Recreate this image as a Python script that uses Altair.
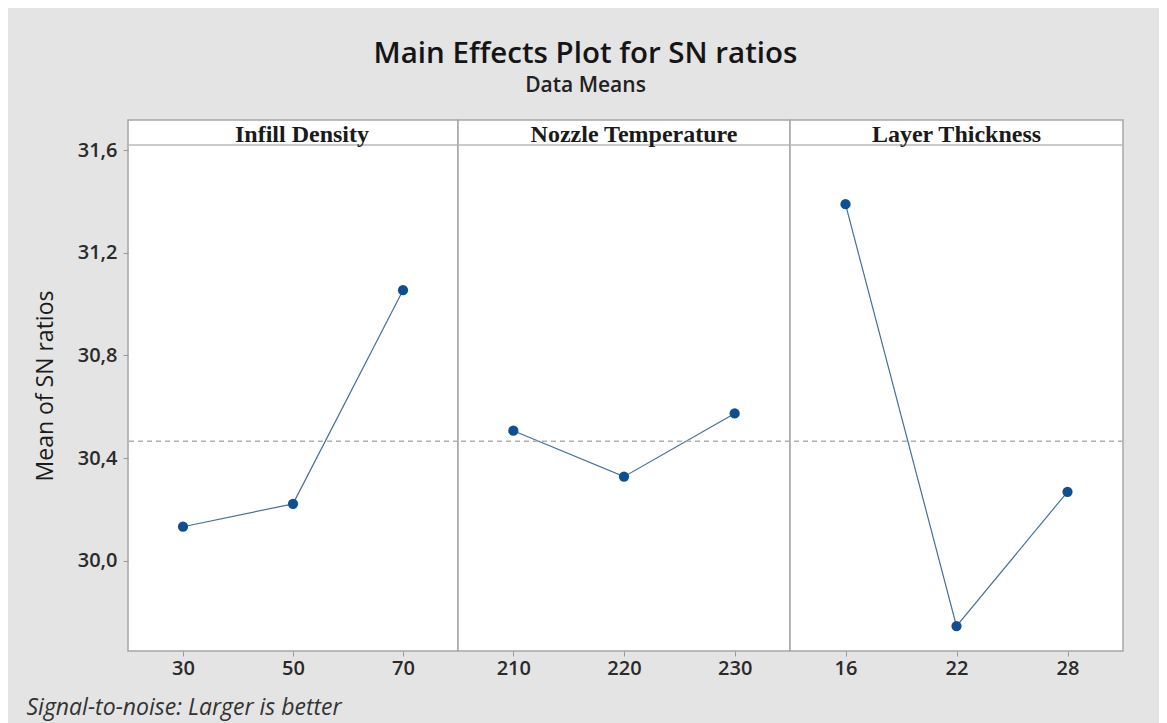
import altair as alt
import pandas as pd

factors = ["Infill Density", "Nozzle Temperature", "Layer Thickness"]
infill_levels = ["30", "50", "70"]
infill_sn = [30.133, 30.222, 31.054]
nozzle_levels = ["210", "220", "230"]
nozzle_sn = [30.507, 30.328, 30.574]
layer_levels = ["16", "22", "28"]
layer_sn = [31.389, 29.746, 30.269]
overall_mean = 30.466
y_ticks = [30.0, 30.4, 30.8, 31.2, 31.6]
y_domain = [29.649, 31.717]
panel_widths = [330, 332, 333]
PANEL_H = 531

SANS = "Open Sans"
SERIF = "Liberation Serif"
LINE_C = "#44709c"
PT_C = "#0f4f91"


def panel(name, levels, values, width, show_y, head_dx):
    df = pd.DataFrame({"level": levels, "sn": values})
    x = alt.X("level:O", sort=levels, title=None,
              scale=alt.Scale(type="point", padding=0.5),
              axis=alt.Axis(labelAngle=0, domain=False, ticks=True, tickSize=5,
                            tickColor="#9a9a9a", labelFontSize=20, labelColor="#2a2a2a",
                            labelFont=SANS, labelFontWeight=600, labelPadding=2, grid=False))
    if show_y:
        yaxis = alt.Axis(values=y_ticks, domain=False, tickSize=5, tickColor="#9a9a9a",
                         labelExpr="replace(format(datum.value, '.1f'), '.', ',')",
                         labelFontSize=20, labelColor="#2a2a2a", labelFont=SANS,
                         labelFontWeight=600, labelPadding=6,
                         title="Mean of SN ratios", titleFont=SANS, titleFontSize=23,
                         titleFontWeight="normal", titleColor="#1a1a1a", titlePadding=20,
                         grid=False)
    else:
        yaxis = None
    yscale = alt.Scale(domain=y_domain, nice=False, zero=False)
    y = alt.Y("sn:Q", scale=yscale, axis=yaxis, title=None)

    base = alt.Chart(df)
    line = base.mark_line(color=LINE_C, strokeWidth=1.2).encode(x=x, y=y)
    pts = base.mark_circle(color=PT_C, size=105, opacity=1).encode(x=x, y=y)
    mean_rule = alt.Chart(pd.DataFrame({"m": [overall_mean]})).mark_rule(
        color="#b0b0b0", strokeDash=[5, 4], strokeWidth=1.5
    ).encode(y=alt.Y("m:Q", scale=yscale, axis=yaxis, title=None))
    header_rule = alt.Chart(pd.DataFrame({"f": [name]})).mark_rule(
        color="#b8b8b8", strokeWidth=1.5
    ).encode(y=alt.value(25), x=alt.value(0), x2=alt.value(width))
    header_text = alt.Chart(pd.DataFrame({"f": [name]})).mark_text(
        font=SERIF, fontSize=24, fontWeight="bold", color="#1a1a1a", baseline="alphabetic",
        dx=head_dx
    ).encode(text="f:N", x=alt.value(width / 2), y=alt.value(22))
    return alt.layer(line, mean_rule, pts, header_rule, header_text).properties(
        width=width, height=PANEL_H
    )


p1 = panel(factors[0], infill_levels, infill_sn, panel_widths[0], True, 9)
p2 = panel(factors[1], nozzle_levels, nozzle_sn, panel_widths[1], False, 10)
p3 = panel(factors[2], layer_levels, layer_sn, panel_widths[2], False, 0)

inner = alt.hconcat(p1, p2, p3, spacing=0, bounds="flush").resolve_scale(x="independent").properties(
    title=alt.TitleParams(
        "Signal-to-noise: Larger is better", orient="bottom", anchor="start", frame="bounds",
        font=SANS, fontSize=23, fontStyle="italic", fontWeight="normal", color="#333333",
        offset=18, dx=-7
    )
)

chart = alt.vconcat(inner).properties(
    title=alt.TitleParams(
        "Main Effects Plot for SN ratios", subtitle="Data Means", anchor="middle",
        frame="bounds", font=SANS, fontSize=29.5, fontWeight=600, color="#151515",
        subtitleFont=SANS, subtitleFontSize=21, subtitleFontWeight=600, subtitleColor="#222222",
        subtitlePadding=6, offset=22, dx=10
    ),
    padding={"left": 18, "right": 34, "top": 30, "bottom": 4},
).configure(background="#e4e4e4").configure_view(
    stroke="#a6a6a6", strokeWidth=1.5, fill="white"
)

chart.save("out.html", embed_options={"renderer": "svg", "actions": False})
